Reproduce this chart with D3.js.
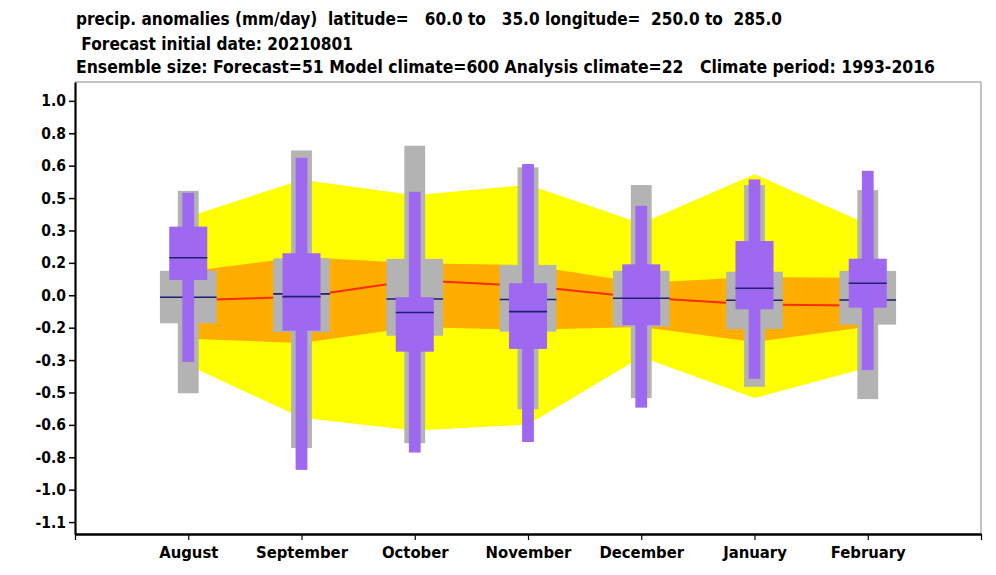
<!DOCTYPE html>
<html><head><meta charset="utf-8">
<script src="https://cdn.jsdelivr.net/npm/d3@7"></script>
<style>
body{margin:0;background:#fff}
text{font-family:"DejaVu Sans Condensed","DejaVu Sans",sans-serif;font-weight:bold;font-stretch:condensed}
</style>
</head><body>
<svg id="c" width="996" height="575"></svg>
<script>
// ---- data ----
const months = ["August","September","October","November","December","January","February"];
const yTickValues = [1.0, 0.8333, 0.6667, 0.5, 0.3333, 0.1667, 0, -0.1667, -0.3333, -0.5, -0.6667, -0.8333, -1.0, -1.1667];
const yTickLabels = ["1.0","0.8","0.6","0.5","0.3","0.2","0.0","-0.2","-0.3","-0.5","-0.6","-0.8","-1.0","-1.1"];
// Analysis climate (bands + median line)
const anaMax    = [0.404, 0.594, 0.514, 0.568, 0.369, 0.623, 0.365];
const anaMin    = [-0.360, -0.630, -0.695, -0.665, -0.318, -0.529, -0.372];
const anaUpper  = [0.122, 0.197, 0.165, 0.155, 0.063, 0.094, 0.089];
const anaLower  = [-0.224, -0.245, -0.163, -0.178, -0.163, -0.240, -0.162];
const anaMedian = [-0.025, -0.008, 0.077, 0.048, -0.011, -0.047, -0.054];
// Model climate (grey boxes)
const climMax    = [0.537, 0.745, 0.769, 0.658, 0.567, 0.567, 0.541];
const climUpper  = [0.126, 0.190, 0.187, 0.156, 0.126, 0.121, 0.125];
const climMedian = [-0.010, 0.007, -0.019, -0.022, -0.015, -0.026, -0.024];
const climLower  = [-0.144, -0.190, -0.208, -0.187, -0.161, -0.173, -0.151];
const climMin    = [-0.504, -0.786, -0.761, -0.586, -0.529, -0.471, -0.534];
// Forecast (purple boxes)
const fcMax    = [0.527, 0.707, 0.532, 0.675, 0.460, 0.596, 0.640];
const fcUpper  = [0.353, 0.216, -0.010, 0.062, 0.159, 0.279, 0.188];
const fcMedian = [0.193, -0.007, -0.089, -0.084, -0.015, 0.036, 0.062];
const fcLower  = [0.079, -0.182, -0.290, -0.276, -0.154, -0.072, -0.064];
const fcMin    = [-0.343, -0.898, -0.809, -0.755, -0.578, -0.430, -0.385];

const titleLines = [
  "precip. anomalies (mm/day)  latitude=   60.0 to   35.0 longitude=  250.0 to  285.0",
  " Forecast initial date: 20210801",
  "Ensemble size: Forecast=51 Model climate=600 Analysis climate=22   Climate period: 1993-2016"
];

// ---- layout ----
const L = 75, R = 981, T = 82, B = 534;
const svg = d3.select("#c");
const x = d3.scaleLinear().domain([0, 8]).range([L, R]);
const y = d3.scaleLinear().domain([-1.228, 1.097]).range([B, T]);
const idx = d3.range(months.length);
const px = i => x(i + 1);

// titles
const tl = [{x:76,y:25,w:706},{x:76,y:50,w:277},{x:76,y:73,w:859}];
titleLines.forEach((t,i)=>{
  svg.append("text").attr("x",tl[i].x).attr("y",tl[i].y)
    .attr("font-size",17.5).attr("xml:space","preserve").style("white-space","pre")
    .attr("textLength",tl[i].w).attr("lengthAdjust","spacingAndGlyphs")
    .text(t);
});

// bands
const band = (hi, lo) => d3.area().x(i=>px(i)).y0(i=>y(lo[i])).y1(i=>y(hi[i]));
svg.append("path").datum(idx).attr("d", band(anaMax, anaMin)).attr("fill","#ffff00");
svg.append("path").datum(idx).attr("d", band(anaUpper, anaLower)).attr("fill","#ffad00");
svg.append("path").datum(idx).attr("d", d3.line().x(i=>px(i)).y(i=>y(anaMedian[i])))
  .attr("fill","none").attr("stroke","#ff2a00").attr("stroke-width",2);

// boxes
const unit = x(1) - x(0);
function boxes(maxA, upA, medA, loA, minA, narrowHalf, wideHalf, color){
  const g = svg.append("g");
  g.selectAll(".n").data(idx).join("rect")
    .attr("x", i=>px(i)-narrowHalf*unit).attr("width", 2*narrowHalf*unit)
    .attr("y", i=>y(maxA[i])).attr("height", i=>y(minA[i])-y(maxA[i]))
    .attr("fill", color);
  g.selectAll(".w").data(idx).join("rect")
    .attr("x", i=>px(i)-wideHalf*unit).attr("width", 2*wideHalf*unit)
    .attr("y", i=>y(upA[i])).attr("height", i=>y(loA[i])-y(upA[i]))
    .attr("fill", color);
  g.selectAll(".m").data(idx).join("line")
    .attr("x1", i=>px(i)-wideHalf*unit).attr("x2", i=>px(i)+wideHalf*unit)
    .attr("y1", i=>y(medA[i])).attr("y2", i=>y(medA[i]))
    .attr("stroke","#1e1e72").attr("stroke-width",1.6);
}
boxes(climMax, climUpper, climMedian, climLower, climMin, 0.092, 0.25, "#b3b3b3");
boxes(fcMax, fcUpper, fcMedian, fcLower, fcMin, 0.052, 0.168, "#9e68f0");

// frame
svg.append("line").attr("x1",L).attr("x2",R).attr("y1",T).attr("y2",T).attr("stroke","#b0b0b0").attr("stroke-width",1.5);
svg.append("line").attr("x1",R).attr("x2",R).attr("y1",T).attr("y2",B).attr("stroke","#b0b0b0").attr("stroke-width",1.5);

// axes
const ya = svg.append("g").attr("transform",`translate(${L},0)`)
  .call(d3.axisLeft(y).tickValues(yTickValues).tickFormat((d,i)=>yTickLabels[i]).tickSize(6).tickSizeOuter(0).tickPadding(3));
ya.select(".domain").attr("stroke","#000").attr("stroke-width",2.2);
ya.selectAll(".tick line").attr("stroke","#000").attr("stroke-width",1.5);
ya.selectAll("text").attr("font-size",15.5).attr("font-family",null).attr("fill","#000");

const xa = svg.append("g").attr("transform",`translate(0,${B})`)
  .call(d3.axisBottom(x).tickValues(d3.range(0,9)).tickFormat(d => (d>=1 && d<=7) ? months[d-1] : "").tickSize(6).tickSizeOuter(0).tickPadding(6));
xa.select(".domain").attr("stroke","#000").attr("stroke-width",2.5);
xa.selectAll(".tick line").attr("stroke","#000").attr("stroke-width",1.2);
xa.selectAll("text").attr("font-size",16.5).attr("font-family",null).attr("fill","#000");
</script>
</body></html>
